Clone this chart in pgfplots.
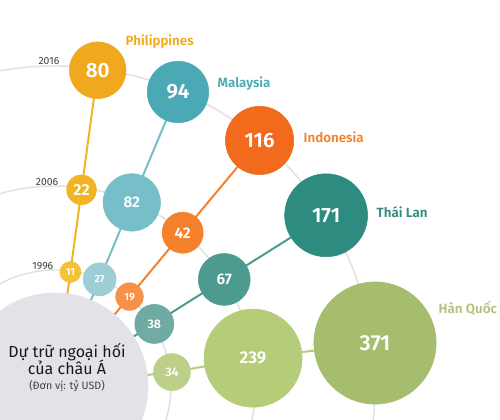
\documentclass[border=0pt]{standalone}
\usepackage{fontspec}
\setmainfont{Fira Sans}[BoldFont={Fira Sans SemiBold}]
\usepackage{pgfplots}
\pgfplotsset{compat=1.18}
\definecolor{ring}{RGB}{226,223,230}
\definecolor{hub}{RGB}{228,226,230}
\definecolor{PHa}{HTML}{F0A81E}\definecolor{PHb}{HTML}{F2B422}\definecolor{PHc}{HTML}{F4C239}
\definecolor{MYa}{HTML}{4BA9B5}\definecolor{MYb}{HTML}{76BEC8}\definecolor{MYc}{HTML}{9DCDD5}
\definecolor{IDa}{HTML}{F26A1B}\definecolor{IDb}{HTML}{F4822C}\definecolor{IDc}{HTML}{F6914A}
\definecolor{THa}{HTML}{2E8B7F}\definecolor{THb}{HTML}{4D9A90}\definecolor{THc}{HTML}{6FAAA3}
\definecolor{KRa}{HTML}{A5BD6D}\definecolor{KRb}{HTML}{B5CC78}\definecolor{KRc}{HTML}{BDD08A}
\definecolor{KRlab}{HTML}{B3C07E}
% angle, radius, value, colour, font size (pt)
\newcommand{\bubble}[5]{%
  \addplot[data cs=polar, only marks, color=#4, mark=*, mark size={2.378*sqrt(#3)},
    mark options={fill=#4, draw=#4},
    nodes near coords={#3}, nodes near coords align=center,
    every node near coord/.append style={anchor=center, text=white,
      font=\fontsize{#5}{#5}\selectfont\bfseries}]
    coordinates {(#1,#2)};}
\newcommand{\ray}[2]{%
  \addplot[data cs=polar, color=#2, line width=1.5pt, mark=none] coordinates {(#1,0) (#1,320)};}
\begin{document}
\begin{tikzpicture}
\begin{axis}[
  scale only axis, width=375pt, height=315pt,
  xmin=-55, xmax=445, ymin=-34, ymax=386,
  axis lines=none, clip=true, clip marker paths=true,
  axis background/.style={fill=white},
]
% year rings
\addplot[only marks, color=ring, mark=o, mark size=87pt, mark options={draw=ring, line width=1.1pt}] coordinates {(0,0)};
\addplot[only marks, color=ring, mark=o, mark size=150pt, mark options={draw=ring, line width=1.1pt}] coordinates {(0,0)};
\addplot[only marks, color=ring, mark=o, mark size=240pt, mark options={draw=ring, line width=1.1pt}] coordinates {(0,0)};
% rays
\ray{82.3}{PHb}
\ray{67.3}{MYb}
\ray{50.2}{IDb}
\ray{32.2}{THb}
\addplot[data cs=polar, color=KRb, line width=1.5pt, mark=none] coordinates {(7.5,0) (6.8,117.8) (8.0,200) (7.65,322.9)};
% hub
\addplot[only marks, color=hub, mark=*, mark size=69.75pt, mark options={fill=hub, draw=hub}] coordinates {(0,0)};
% bubbles: Philippines
\bubble{82.3}{115}{11}{PHc}{7.8}
\bubble{82.3}{198}{22}{PHb}{12}
\bubble{82.3}{318.6}{80}{PHa}{15.5}
% Malaysia
\bubble{67.3}{115.6}{27}{MYc}{7.8}
\bubble{67.3}{199}{82}{MYb}{11.5}
\bubble{67.3}{318.7}{94}{MYa}{15.5}
% Indonesia
\bubble{50.2}{116.4}{19}{IDc}{7.8}
\bubble{50.2}{199.5}{42}{IDb}{11.5}
\bubble{50.2}{319.6}{116}{IDa}{15.5}
% Thailand
\bubble{32.0}{117.1}{38}{THc}{9.3}
\bubble{32.2}{200}{67}{THb}{11.5}
\bubble{32.2}{320.4}{171}{THa}{15.5}
% Korea
\bubble{6.8}{117.8}{34}{KRc}{9.3}
\bubble{8.0}{200}{239}{KRb}{12.8}
\bubble{7.65}{322.9}{371}{KRa}{16.3}
% labels
\node[anchor=west, text=PHa, font=\fontsize{10}{10}\selectfont\bfseries] at (axis cs:66,344) {Philippines};
\node[anchor=west, text=MYa, font=\fontsize{10}{10}\selectfont\bfseries] at (axis cs:158,302) {Malaysia};
\node[anchor=west, text=IDb, font=\fontsize{10}{10}\selectfont\bfseries] at (axis cs:244,249) {Indonesia};
\node[anchor=west, text=THa, font=\fontsize{10}{10}\selectfont\bfseries] at (axis cs:317,174) {Thái Lan};
\node[anchor=west, text=KRlab, font=\fontsize{10}{10}\selectfont\bfseries] at (axis cs:379,78) {Hàn Quốc};
\node[anchor=east, text=black!75, font=\fontsize{7.8}{8}\selectfont] at (axis cs:9,325) {2016};
\node[anchor=east, text=black!75, font=\fontsize{7.8}{8}\selectfont] at (axis cs:8,204) {2006};
\node[anchor=east, text=black!75, font=\fontsize{7.8}{8}\selectfont] at (axis cs:3,120) {1996};
\node[anchor=base, text=black!90, font=\fontsize{12}{12}\selectfont] at (axis cs:12,28) {Dự trữ ngoại hối};
\node[anchor=base, text=black!90, font=\fontsize{12}{12}\selectfont] at (axis cs:12,11) {của châu Á};
\node[anchor=base, text=black!75, font=\fontsize{8}{8}\selectfont] at (axis cs:12,-4) {(Đơn vị: tỷ USD)};
\end{axis}
\end{tikzpicture}
\end{document}
